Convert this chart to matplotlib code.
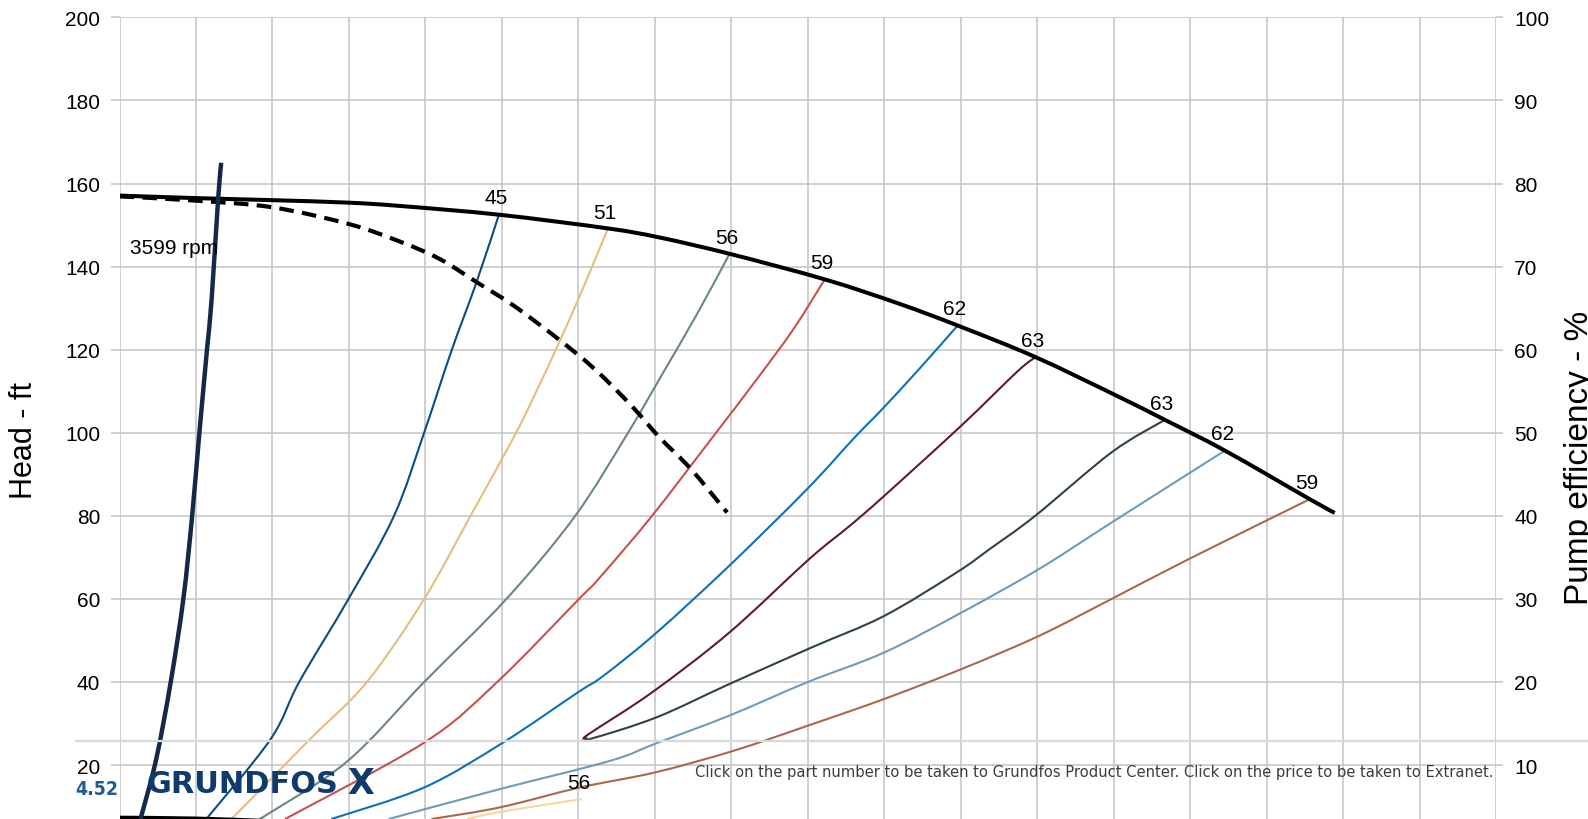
#!/usr/bin/env python3
import matplotlib
matplotlib.use('Agg')
import matplotlib.pyplot as plt
from matplotlib.lines import Line2D
from matplotlib.path import Path
from matplotlib.patches import PathPatch

plt.rcParams['font.family'] = ['Liberation Sans', 'DejaVu Sans']

# flow in grid units (20 per grid line), head in ft
head_q = [0, 19.7, 39.8, 59.8, 73.4, 99.2, 127.7, 141.3, 159.9, 184.9, 204.1,
          219.8, 239.6, 260.8, 273.4, 289.1, 311.3, 317.8]
head_h = [157.1, 156.5, 156.0, 155.4, 154.6, 152.5, 149.2, 147.0, 143.0, 136.8,
          131.0, 125.6, 118.2, 108.9, 103.1, 95.7, 84.0, 80.7]

dash_q = [0, 19.7, 39.8, 59.8, 73.4, 83.8, 93.5, 103.1, 114.7, 124.3, 133.9,
          141.2, 149.4, 158.9]
dash_h = [156.9, 155.9, 154.3, 150.3, 146.0, 141.8, 136.2, 130.6, 122.6, 115.3,
          106.5, 98.9, 91.3, 80.8]

speed_q = [26.6, 25.8, 24.1, 22.9, 20.9, 19.0, 16.7, 13.4, 9.6, 5.5]
speed_h = [165.0, 156.4, 132.2, 120.2, 100.1, 80.0, 60.0, 40.0, 21.4, 7.0]

low_q = [0, 19.7, 38.6]
low_h = [7.3, 7.1, 6.5]

# iso-efficiency lines, first point = end on the head curve
e45_q = [99.3, 93.5, 86.7, 79.7, 71.8, 59.9, 47.0, 39.5, 22.7]
e45_h = [152.7, 136.6, 119.4, 100.1, 80.0, 60.0, 40.0, 26.2, 7.0]
e51_q = [127.7, 120.4, 114.6, 108.9, 103.1, 91.8, 79.7, 64.7, 49.8, 29.3]
e51_h = [149.1, 133.0, 121.0, 109.7, 98.9, 80.0, 60.0, 40.0, 26.2, 7.0]
e56_q = [159.5, 151.3, 141.7, 133.0, 119.2, 101.2, 79.7, 59.2, 36.7]
e56_h = [143.0, 129.0, 113.7, 100.0, 80.0, 60.0, 40.0, 20.6, 7.0]
e59_q = [184.5, 176.3, 166.7, 155.1, 139.2, 125.3, 120.3, 98.8, 79.7, 43.3]
e59_h = [137.0, 125.0, 112.9, 98.9, 79.9, 64.8, 60.1, 40.0, 25.4, 7.0]
e62_q = [219.2, 209.1, 199.5, 192.3, 179.8, 159.5, 140.5, 126.6, 119.9, 100.3, 79.7, 55.4]
e62_h = [125.8, 115.3, 105.7, 98.9, 86.4, 68.0, 51.9, 41.5, 37.5, 25.4, 14.6, 7.0]
e63a_q = [239.6, 235.0, 220.5, 200.0, 191.0, 180.4, 159.5, 139.3, 122.8, 122.1]
e63a_h = [118.2, 114.9, 102.0, 84.8, 77.6, 69.6, 51.9, 37.5, 27.5, 26.6]
e63b_q = [273.4, 259.5, 239.5, 227.6, 219.0, 200.0, 181.0, 159.5, 140.5, 123.6, 122.1]
e63b_h = [103.1, 95.3, 80.0, 72.0, 66.4, 55.9, 48.3, 39.5, 31.5, 26.4, 26.6]
e62b_q = [289.1, 259.5, 240.5, 220.2, 200.0, 179.8, 159.5, 140.3, 128.3, 99.5, 70.4]
e62b_h = [95.7, 78.4, 67.2, 56.7, 47.1, 39.9, 31.9, 25.2, 21.0, 14.2, 7.0]
e59b_q = [311.3, 279.7, 259.5, 240.5, 220.2, 200.0, 179.8, 160.5, 140.0, 120.4, 99.5, 81.6]
e59b_h = [84.0, 69.6, 60.0, 51.1, 43.1, 35.9, 29.4, 23.4, 18.2, 14.6, 9.8, 7.0]
e56b_q = [120.9, 99.5, 90.9]
e56b_h = [11.8, 8.7, 7.0]

iso_lines = [
    (e45_q, e45_h, '#0b4c82', '45'),
    (e51_q, e51_h, '#e2bf7c', '51'),
    (e56_q, e56_h, '#6b8878', '56'),
    (e59_q, e59_h, '#c5524f', '59'),
    (e62_q, e62_h, '#0a71bf', '62'),
    (e63a_q, e63a_h, '#5e1c2c', '63'),
    (e63b_q, e63b_h, '#2f4538', '63'),
    (e62b_q, e62b_h, '#6d9bbd', '62'),
    (e59b_q, e59b_h, '#a8694a', '59'),
    (e56b_q, e56b_h, '#f6d89e', '56'),
]


def smooth_line(ax, xs, ys, **kw):
    # draw the read points joined by a catmull-rom style bezier path
    pts = list(zip(xs, ys))
    n = len(pts)
    verts = [pts[0]]
    codes = [Path.MOVETO]
    for i in range(n - 1):
        p0 = pts[i - 1] if i > 0 else pts[i]
        p1, p2 = pts[i], pts[i + 1]
        p3 = pts[i + 2] if i + 2 < n else pts[i + 1]
        c1 = (p1[0] + (p2[0] - p0[0]) / 6, p1[1] + (p2[1] - p0[1]) / 6)
        c2 = (p2[0] - (p3[0] - p1[0]) / 6, p2[1] - (p3[1] - p1[1]) / 6)
        verts += [c1, c2, p2]
        codes += [Path.CURVE4] * 3
    ax.add_patch(PathPatch(Path(verts, codes), fill=False, **kw))


W, H = 1588, 820
fig = plt.figure(figsize=(W / 100, H / 100), dpi=100)
ax = fig.add_axes([119.5 / W, 0, 1376.5 / W, 801.6 / H])
ax.set_xlim(0, 360)
ax.set_ylim(7.0, 200)
ax.set_xticks(range(0, 361, 20))
ax.set_yticks(range(20, 201, 20))
ax.grid(True, color='#c3c3c3', linewidth=1.1)
ax.set_axisbelow(True)
ax.tick_params(axis='x', length=0, labelbottom=False)
ax.tick_params(axis='y', length=6.8, width=1.1, color='#c3c3c3', pad=7, labelsize=15)

ax2 = ax.twinx()
ax2.set_ylim(3.5, 100)
ax2.set_yticks(range(10, 101, 10))
ax2.tick_params(axis='y', length=5, width=1.1, color='#c3c3c3', pad=8, labelsize=15)
for a in (ax, ax2):
    for s in a.spines.values():
        s.set_visible(False)

for q, h, c, lab in iso_lines:
    smooth_line(ax, q, h, edgecolor=c, lw=1.5, zorder=3)
    ax.annotate(lab, (q[0], h[0]), xytext=(-2, 8), textcoords='offset points',
                ha='center', va='baseline', fontsize=15, zorder=6)

smooth_line(ax, dash_q, dash_h, edgecolor='black', lw=3, ls=(0, (3.5, 2.0)),
            capstyle='butt', zorder=4)
smooth_line(ax, head_q, head_h, edgecolor='black', lw=2.9, zorder=5)
smooth_line(ax, low_q, low_h, edgecolor='black', lw=3, zorder=5)
smooth_line(ax, speed_q, speed_h, edgecolor='#14294a', lw=3.2, zorder=5)
ax.text(2.75, 144.5, '3599 rpm', fontsize=15, va='center', zorder=6)

fig.text(24 / W, 1 - 441 / H, 'Head - ft', rotation=90, ha='center', va='center', fontsize=22)
fig.text(1564 / W, 1 - 458 / H, 'Pump efficiency - %', rotation=90, ha='left', va='center',
         fontsize=24)

# page footer overlay
fig.add_artist(Line2D([76 / W, 1], [1 - 742.3 / H] * 2, transform=fig.transFigure,
                      color='#d9d9d9', lw=1.6))
foot = fig.text(695 / W, 1 - 777 / H,
                'Click on the part number to be taken to Grundfos Product Center. '
                'Click on the price to be taken to Extranet.',
                family='DejaVu Sans', fontstretch='condensed', fontsize=12,
                color='#3c3c3c', va='baseline')
page = fig.text(75 / W, 1 - 795 / H, '4.52', family='DejaVu Sans', fontstretch='condensed',
                fontsize=15, weight='bold', color='#1f5c94', va='baseline')
logo = fig.text(147 / W, 1 - 793 / H, 'GRUNDFOS', family='DejaVu Sans', fontsize=18,
                weight='bold', color='#0e3a6e', va='baseline')
fig.text(347 / W, 1 - 794 / H, 'X', family='DejaVu Sans', fontsize=25, weight='bold',
         color='#0e3a6e', va='baseline')

renderer = fig.canvas.get_renderer()
for t, target in ((foot, 799), (page, 43), (logo, 192)):
    w = t.get_window_extent(renderer=renderer).width
    t.set_fontsize(t.get_fontsize() * target / w)

fig.savefig('out.png', dpi=100)
